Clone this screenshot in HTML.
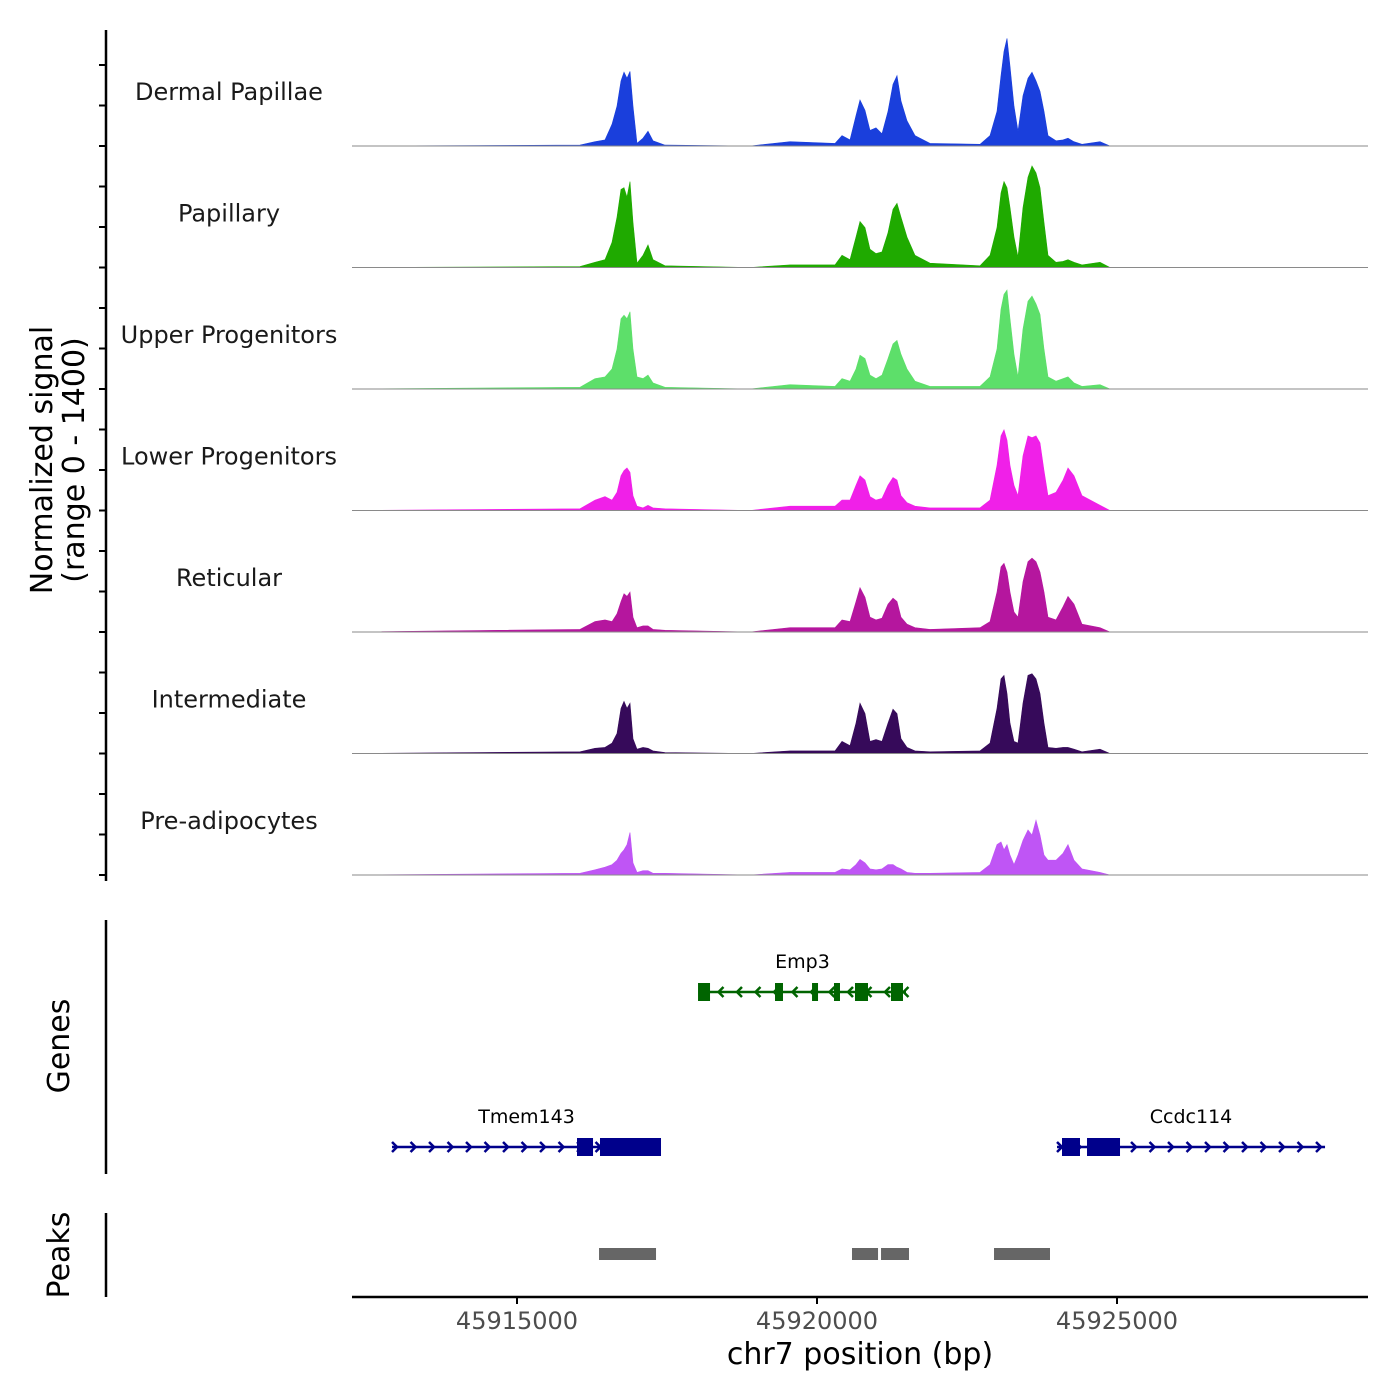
<!DOCTYPE html>
<html><head><meta charset="utf-8"><style>
body{margin:0;background:#fff;}
svg{display:block;font-family:"DejaVu Sans","Liberation Sans",sans-serif;}
</style></head><body>
<svg id="chart" width="1400" height="1400" viewBox="0 0 1400 1400" xmlns="http://www.w3.org/2000/svg">
<g id="tracks"></g>
<g id="genes"></g>
<g id="peaks"></g>
<g id="axes"></g>
</svg>
<script>
const positions = [45912250,45916050,45916300,45916467,45916583,45916667,45916733,45916783,45916833,45916883,45916933,45917000,45917100,45917183,45917267,45917467,45918883,45919550,45920300,45920417,45920550,45920650,45920717,45920800,45920883,45920983,45921083,45921183,45921267,45921333,45921400,45921500,45921633,45921883,45922717,45922883,45923000,45923067,45923117,45923167,45923217,45923283,45923350,45923433,45923517,45923583,45923650,45923717,45923783,45923850,45923983,45924100,45924183,45924283,45924417,45924717,45924883,45929183];
const trackNames = ["Dermal Papillae","Papillary","Upper Progenitors","Lower Progenitors","Reticular","Intermediate","Pre-adipocytes"];
const trackColors = ["#1a3fdc","#1faa00","#5ddf6a","#f020e8","#b5169e","#360a5a","#bf55f5"];
const sigDermal = [0,10,50,70,250,460,750,850,780,860,460,30,90,170,60,10,0,50,30,120,70,350,530,410,180,210,140,400,710,810,520,290,120,30,20,120,400,810,1090,1240,920,460,170,580,780,850,750,630,400,120,60,70,90,50,20,50,0,0];
const sigPapillary = [0,10,60,90,290,580,900,920,810,990,520,50,140,260,90,20,0,30,30,140,90,350,530,460,210,160,180,400,670,740,580,350,140,50,20,140,460,860,990,920,690,350,120,690,1040,1170,1090,920,520,140,60,70,90,60,30,60,0,0];
const sigUpper = [0,20,120,140,230,460,810,850,810,890,460,140,120,160,70,20,0,50,30,120,90,230,390,350,160,120,160,350,520,560,400,230,90,30,30,140,460,920,1090,1140,810,400,140,690,1010,1070,980,860,460,140,90,120,140,70,30,50,0,0];
const sigLower = [0,20,120,160,120,210,400,460,490,440,170,50,30,60,30,20,0,50,50,120,120,290,400,350,160,120,140,290,380,350,170,90,50,30,30,120,520,860,930,810,520,290,170,630,860,840,860,780,460,170,210,350,490,400,170,60,0,0];
const sigReticular = [0,30,120,140,120,210,350,440,410,460,170,50,70,70,30,20,0,50,50,140,120,350,510,400,170,140,160,320,390,350,170,90,50,30,50,120,460,750,790,690,460,230,170,580,810,850,810,690,460,170,140,290,410,320,90,50,0,0];
const sigIntermediate = [0,20,60,70,120,230,520,600,520,580,170,50,70,60,30,10,0,30,30,140,90,350,580,460,140,160,140,350,510,460,170,70,30,20,30,120,520,860,900,690,350,140,120,580,900,920,860,690,350,70,60,70,70,50,20,50,0,0];
const sigPreadipo = [0,20,60,90,120,170,250,290,350,490,140,30,50,50,20,20,0,30,30,70,60,120,180,140,70,60,70,120,120,90,70,30,20,20,30,120,350,380,290,350,230,120,230,400,520,460,630,460,230,170,170,250,350,170,70,30,0,0];
const signals = [sigDermal,sigPapillary,sigUpper,sigLower,sigReticular,sigIntermediate,sigPreadipo];
const xTicks = [45915000,45920000,45925000];
const xTickLabels = ["45915000","45920000","45925000"];
const geneNames = ["Emp3","Tmem143","Ccdc114"];
const geneStarts = [45918033,45912917,45924000];
const geneEnds = [45921483,45917400,45928467];
const geneStrands = ["-","+","+"];
const geneExons = [
  [[45918017,45918217],[45919300,45919433],[45919917,45920017],[45920283,45920383],[45920633,45920850],[45921233,45921433]],
  [[45916000,45916267],[45916383,45917400]],
  [[45924083,45924383],[45924500,45925050]]
];
const peakStarts = [45916367,45920583,45921067,45922950];
const peakEnds = [45917317,45921017,45921533,45923883];

const NS="http://www.w3.org/2000/svg";
const xMin=45912250, xMax=45929183, pxL=352, pxR=1368;
const X = v => pxL + (v-xMin)/(xMax-xMin)*(pxR-pxL);
const trackH = 121.5, firstBase = 146, yMax = 1400;
const Y = (i,v) => firstBase + i*trackH - v/yMax*trackH;
function mk(tag, attrs, parent, text){
  const e=document.createElementNS(NS,tag);
  for(const k in attrs) e.setAttribute(k,attrs[k]);
  if(text!==undefined) e.textContent=text;
  parent.appendChild(e); return e;
}
const gT=document.getElementById('tracks');
signals.forEach((s,i)=>{
  let d=`M${X(positions[0])},${Y(i,0)}`;
  positions.forEach((p,j)=>{ d+=`L${X(p).toFixed(1)},${Y(i,s[j]||0).toFixed(1)}`; });
  d+=`L${X(positions[positions.length-1])},${Y(i,0)}Z`;
  const a=mk('path',{d:d,fill:trackColors[i],stroke:trackColors[i],'stroke-width':0.6},gT);
  
  
  const b=mk('line',{x1:pxL,x2:pxR,y1:Y(i,0),y2:Y(i,0),stroke:'#8a8a8a','stroke-width':1},gT);
  
  
  const t=mk('text',{x:229,y:Y(i,0)-46,'text-anchor':'middle','font-size':24,fill:'#1a1a1a'},gT,trackNames[i]);
  
  
});
// genes
const gG=document.getElementById('genes');
const geneY=[992,1147,1147], geneCol=["#006400","#00008b","#00008b"];
geneNames.forEach((n,i)=>{
  const y=geneY[i], c=geneCol[i];
  const g=mk('g',{},gG);
  
  
  const x1=X(geneStarts[i]), x2=X(geneEnds[i]);
  mk('line',{x1:x1,x2:x2,y1:y,y2:y,stroke:c,'stroke-width':2.5},g);
  const dir=geneStrands[i]==='+'?1:-1;
  for(let x=x1+3;x<=x2;x+=18.5){
    mk('path',{d:`M${x-3*dir},${y-5}L${x+2*dir},${y}L${x-3*dir},${y+5}`,fill:'none',stroke:c,'stroke-width':2.5},g);
  }
  geneExons[i].forEach(ex=>{
    const e=mk('rect',{x:X(ex[0]),y:y-9,width:Math.max(5,X(ex[1])-X(ex[0])),height:18,fill:c},g);
    
    
  });
  const t=mk('text',{x:(x1+x2)/2,y:y-24,'text-anchor':'middle','font-size':19,fill:'#000'},g,n);
  
  
});
// peaks
const gP=document.getElementById('peaks');
peakStarts.forEach((s,i)=>{
  const r=mk('rect',{x:X(s),y:1248,width:X(peakEnds[i])-X(s),height:12,fill:'#666666'},gP);
  
  
});
// axes
const gA=document.getElementById('axes');
mk('line',{x1:106,x2:106,y1:30,y2:881,stroke:'#000','stroke-width':2.5},gA);
for(let y=875;y>=30;y-=trackH/3){ mk('line',{x1:99,x2:106,y1:y,y2:y,stroke:'#000','stroke-width':2},gA); }
mk('line',{x1:106,x2:106,y1:920,y2:1174,stroke:'#000','stroke-width':2.5},gA);
mk('line',{x1:106,x2:106,y1:1213,y2:1297,stroke:'#000','stroke-width':2.5},gA);
mk('line',{x1:pxL,x2:pxR,y1:1297,y2:1297,stroke:'#000','stroke-width':2.5},gA);
xTicks.forEach((v,i)=>{
  mk('line',{x1:X(v),x2:X(v),y1:1297,y2:1304,stroke:'#000','stroke-width':2},gA);
  const t=mk('text',{x:X(v),y:1329,'text-anchor':'middle','font-size':24,fill:'#4d4d4d'},gA,xTickLabels[i]);
  
  
});
const xt=mk('text',{x:860,y:1364,'text-anchor':'middle','font-size':30,fill:'#000'},gA,'chr7 position (bp)');


const y1=mk('text',{x:0,y:0,'text-anchor':'middle','font-size':30,fill:'#000',transform:'translate(52,460) rotate(-90)'},gA,'Normalized signal');


const y2=mk('text',{x:0,y:0,'text-anchor':'middle','font-size':30,fill:'#000',transform:'translate(84,460) rotate(-90)'},gA,'(range 0 - 1400)');


const gl=mk('text',{x:0,y:0,'text-anchor':'middle','font-size':30,fill:'#000',transform:'translate(69,1046) rotate(-90)'},gA,'Genes');


const pl=mk('text',{x:0,y:0,'text-anchor':'middle','font-size':30,fill:'#000',transform:'translate(69,1255) rotate(-90)'},gA,'Peaks');


</script>
</body></html>
